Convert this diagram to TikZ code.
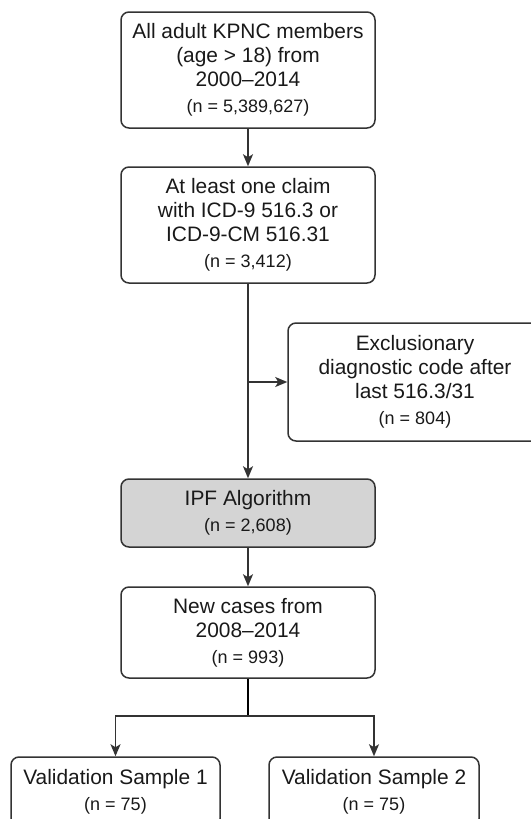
\documentclass[tikz,border=0pt]{standalone}
\usepackage{fontspec}
\setmainfont{Liberation Sans}
\usetikzlibrary{arrows.meta}
\newcommand\nsz{\fontsize{9}{12}\selectfont}

\begin{document}
\begin{tikzpicture}[x=0.5pt, y=-0.5pt, line width=0.75pt,
    box/.style={draw=black!80, rounded corners=4pt, align=center, inner sep=0pt,
      text=black!90, font=\fontsize{10.45}{12}\selectfont, minimum width=127pt},
    flow/.style={draw=black!80, -{Stealth[length=6pt, width=5pt, inset=1.5pt]}}]
  \useasboundingbox (0, 0) rectangle (530, 819);
  \node[box, minimum height=58pt] (all) at (248, 70)
    {All adult KPNC members\\(age > 18) from\\2000–2014\\[1pt]\nsz (n = 5,389,627)};
  \node[box, minimum height=58pt] (claim) at (248, 225)
    {At least one claim\\with ICD-9 516.3 or\\ICD-9-CM 516.31\\[1pt]\nsz (n = 3,412)};
  \node[box, minimum height=59pt] (excl) at (415, 382)
    {Exclusionary\\diagnostic code after\\last 516.3/31\\[1pt]\nsz (n = 804)};
  \node[box, fill=black!17, minimum height=34pt] (ipf) at (248, 513)
    {IPF Algorithm\\[1pt]\nsz (n = 2,608)};
  \node[box, minimum height=45.5pt] (new) at (248, 632.5)
    {New cases from\\2008–2014\\[1pt]\nsz (n = 993)};
  \node[box, minimum width=104.5pt, minimum height=35pt] (val1) at (115.5, 792)
    {Validation Sample 1\\[1pt]\nsz (n = 75)};
  \node[box, minimum width=105pt, minimum height=35pt] (val2) at (374, 792)
    {Validation Sample 2\\[1pt]\nsz (n = 75)};
  \coordinate (split) at (248, 382);
  \coordinate (fork) at (248, 716);
  \draw[flow] (all) -- (claim);
  \draw[flow] (claim) -- (ipf);
  \draw[flow] (split) -- (excl);
  \draw[flow] (ipf) -- (new);
  \draw (new) -- (fork);
  \draw[flow] (fork) -| (val1);
  \draw[flow] (fork) -| (val2);
\end{tikzpicture}
\end{document}
